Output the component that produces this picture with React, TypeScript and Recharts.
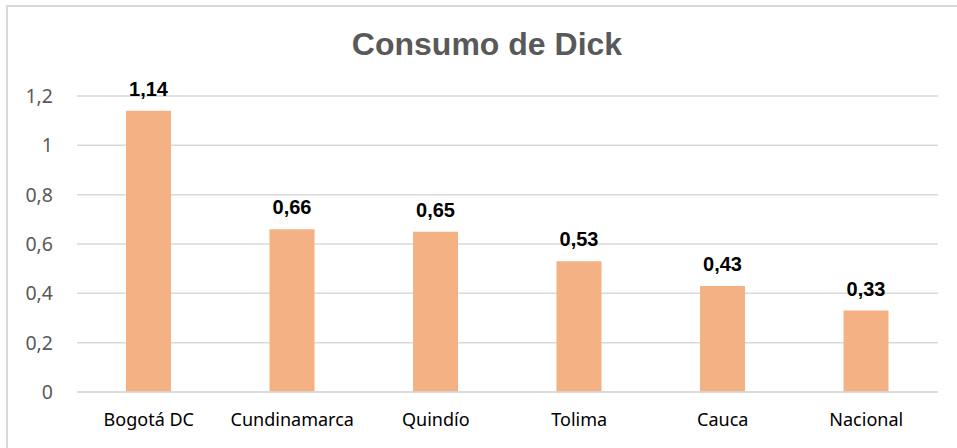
import { BarChart, Bar, XAxis, YAxis, CartesianGrid, LabelList } from "recharts";

const regions = ["Bogotá DC", "Cundinamarca", "Quindío", "Tolima", "Cauca", "Nacional"];
const consumo = [1.14, 0.66, 0.65, 0.53, 0.43, 0.33];
const yTicks = [0, 0.2, 0.4, 0.6, 0.8, 1, 1.2];

const data = regions.map((region, i) => ({ region, consumo: consumo[i] }));

const comma = (v: number | string) => String(v).replace(".", ",");

export default function App() {
  return (
    <div
      style={{
        position: "absolute",
        left: 0,
        top: 0,
        width: 957,
        height: 448,
        overflow: "hidden",
        background: "#fff",
      }}
    >
      <div
        style={{
          position: "absolute",
          left: 6,
          top: 5,
          width: 1000,
          height: 500,
          border: "2px solid #d9d9d9",
        }}
      />
      <div
        style={{
          position: "absolute",
          left: 487,
          top: 28,
          transform: "translateX(-50%)",
          whiteSpace: "nowrap",
          fontFamily: "'Liberation Sans', Arial, sans-serif",
          fontWeight: "bold",
          fontSize: 32,
          lineHeight: "32px",
          color: "#595959",
        }}
      >
        Consumo de Dick
      </div>
      <div style={{ position: "absolute", left: 0, top: 0 }}>
        <BarChart
          width={957}
          height={448}
          data={data}
          margin={{ top: 96, right: 19, left: 0, bottom: 26 }}
        >
          <CartesianGrid vertical={false} stroke="#d9d9d9" strokeWidth={1.5} />
          <XAxis
            dataKey="region"
            axisLine={{ stroke: "#d9d9d9", strokeWidth: 1.5 }}
            tickLine={false}
            tickMargin={15}
            height={30}
            interval={0}
            tick={{ fill: "#000", fontSize: 18, fontFamily: "'Noto Sans', sans-serif" }}
          />
          <YAxis
            domain={[0, 1.2]}
            ticks={yTicks}
            width={77}
            axisLine={false}
            tickLine={false}
            tickMargin={18}
            tickFormatter={comma}
            tick={{ fill: "#595959", fontSize: 19.5, fontFamily: "'Noto Sans', sans-serif" }}
          />
          <Bar dataKey="consumo" fill="#f4b183" barSize={45} isAnimationActive={false}>
            <LabelList
              dataKey="consumo"
              position="top"
              offset={15}
              formatter={comma}
              fill="#000"
              style={{
                fontSize: 20,
                fontWeight: "bold",
                fontFamily: "'Liberation Sans', Arial, sans-serif",
              }}
            />
          </Bar>
        </BarChart>
      </div>
    </div>
  );
}
